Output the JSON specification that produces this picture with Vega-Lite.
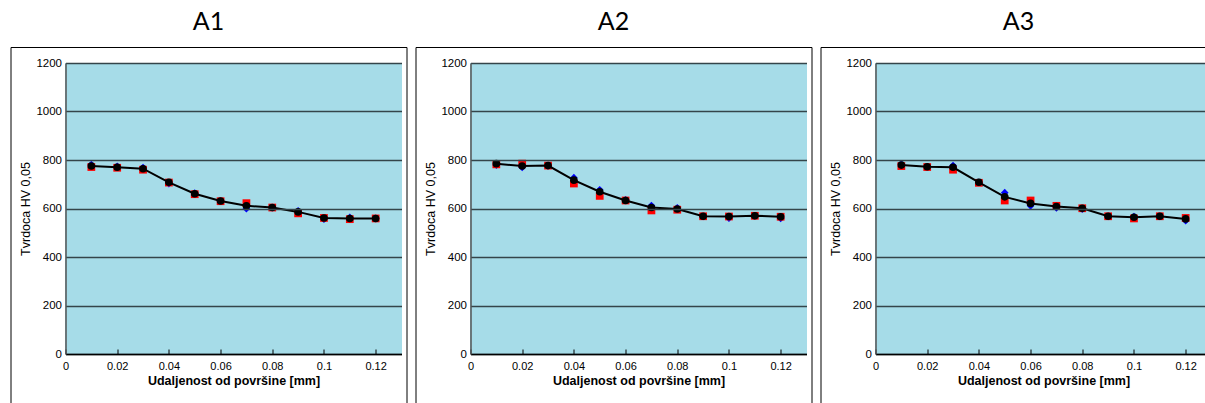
{
  "$schema": "https://vega.github.io/schema/vega-lite/v6.json",
  "background": "white",
  "padding": {"left": 9.5, "top": 10, "right": 0, "bottom": 0},
  "data": {"values": [
    {"uzorak":"A1","udaljenost":0.01,"serija":"Mjerenje 1","hv":781},
    {"uzorak":"A1","udaljenost":0.02,"serija":"Mjerenje 1","hv":774},
    {"uzorak":"A1","udaljenost":0.03,"serija":"Mjerenje 1","hv":769},
    {"uzorak":"A1","udaljenost":0.04,"serija":"Mjerenje 1","hv":703},
    {"uzorak":"A1","udaljenost":0.05,"serija":"Mjerenje 1","hv":663},
    {"uzorak":"A1","udaljenost":0.06,"serija":"Mjerenje 1","hv":630},
    {"uzorak":"A1","udaljenost":0.07,"serija":"Mjerenje 1","hv":599},
    {"uzorak":"A1","udaljenost":0.08,"serija":"Mjerenje 1","hv":604},
    {"uzorak":"A1","udaljenost":0.09,"serija":"Mjerenje 1","hv":590},
    {"uzorak":"A1","udaljenost":0.10,"serija":"Mjerenje 1","hv":556},
    {"uzorak":"A1","udaljenost":0.11,"serija":"Mjerenje 1","hv":563},
    {"uzorak":"A1","udaljenost":0.12,"serija":"Mjerenje 1","hv":559},
    {"uzorak":"A1","udaljenost":0.01,"serija":"Mjerenje 2","hv":771},
    {"uzorak":"A1","udaljenost":0.02,"serija":"Mjerenje 2","hv":768},
    {"uzorak":"A1","udaljenost":0.03,"serija":"Mjerenje 2","hv":760},
    {"uzorak":"A1","udaljenost":0.04,"serija":"Mjerenje 2","hv":707},
    {"uzorak":"A1","udaljenost":0.05,"serija":"Mjerenje 2","hv":659},
    {"uzorak":"A1","udaljenost":0.06,"serija":"Mjerenje 2","hv":630},
    {"uzorak":"A1","udaljenost":0.07,"serija":"Mjerenje 2","hv":622},
    {"uzorak":"A1","udaljenost":0.08,"serija":"Mjerenje 2","hv":604},
    {"uzorak":"A1","udaljenost":0.09,"serija":"Mjerenje 2","hv":580},
    {"uzorak":"A1","udaljenost":0.10,"serija":"Mjerenje 2","hv":561},
    {"uzorak":"A1","udaljenost":0.11,"serija":"Mjerenje 2","hv":556},
    {"uzorak":"A1","udaljenost":0.12,"serija":"Mjerenje 2","hv":559},
    {"uzorak":"A1","udaljenost":0.01,"serija":"Prosjek","hv":775},
    {"uzorak":"A1","udaljenost":0.02,"serija":"Prosjek","hv":770},
    {"uzorak":"A1","udaljenost":0.03,"serija":"Prosjek","hv":764},
    {"uzorak":"A1","udaljenost":0.04,"serija":"Prosjek","hv":708},
    {"uzorak":"A1","udaljenost":0.05,"serija":"Prosjek","hv":661},
    {"uzorak":"A1","udaljenost":0.06,"serija":"Prosjek","hv":631},
    {"uzorak":"A1","udaljenost":0.07,"serija":"Prosjek","hv":611},
    {"uzorak":"A1","udaljenost":0.08,"serija":"Prosjek","hv":604},
    {"uzorak":"A1","udaljenost":0.09,"serija":"Prosjek","hv":586},
    {"uzorak":"A1","udaljenost":0.10,"serija":"Prosjek","hv":561},
    {"uzorak":"A1","udaljenost":0.11,"serija":"Prosjek","hv":559},
    {"uzorak":"A1","udaljenost":0.12,"serija":"Prosjek","hv":559},
    {"uzorak":"A2","udaljenost":0.01,"serija":"Mjerenje 1","hv":779},
    {"uzorak":"A2","udaljenost":0.02,"serija":"Mjerenje 1","hv":770},
    {"uzorak":"A2","udaljenost":0.03,"serija":"Mjerenje 1","hv":777},
    {"uzorak":"A2","udaljenost":0.04,"serija":"Mjerenje 1","hv":727},
    {"uzorak":"A2","udaljenost":0.05,"serija":"Mjerenje 1","hv":677},
    {"uzorak":"A2","udaljenost":0.06,"serija":"Mjerenje 1","hv":636},
    {"uzorak":"A2","udaljenost":0.07,"serija":"Mjerenje 1","hv":612},
    {"uzorak":"A2","udaljenost":0.08,"serija":"Mjerenje 1","hv":603},
    {"uzorak":"A2","udaljenost":0.09,"serija":"Mjerenje 1","hv":568},
    {"uzorak":"A2","udaljenost":0.10,"serija":"Mjerenje 1","hv":560},
    {"uzorak":"A2","udaljenost":0.11,"serija":"Mjerenje 1","hv":570},
    {"uzorak":"A2","udaljenost":0.12,"serija":"Mjerenje 1","hv":559},
    {"uzorak":"A2","udaljenost":0.01,"serija":"Mjerenje 2","hv":782},
    {"uzorak":"A2","udaljenost":0.02,"serija":"Mjerenje 2","hv":785},
    {"uzorak":"A2","udaljenost":0.03,"serija":"Mjerenje 2","hv":777},
    {"uzorak":"A2","udaljenost":0.04,"serija":"Mjerenje 2","hv":703},
    {"uzorak":"A2","udaljenost":0.05,"serija":"Mjerenje 2","hv":652},
    {"uzorak":"A2","udaljenost":0.06,"serija":"Mjerenje 2","hv":633},
    {"uzorak":"A2","udaljenost":0.07,"serija":"Mjerenje 2","hv":592},
    {"uzorak":"A2","udaljenost":0.08,"serija":"Mjerenje 2","hv":595},
    {"uzorak":"A2","udaljenost":0.09,"serija":"Mjerenje 2","hv":568},
    {"uzorak":"A2","udaljenost":0.10,"serija":"Mjerenje 2","hv":567},
    {"uzorak":"A2","udaljenost":0.11,"serija":"Mjerenje 2","hv":570},
    {"uzorak":"A2","udaljenost":0.12,"serija":"Mjerenje 2","hv":566},
    {"uzorak":"A2","udaljenost":0.01,"serija":"Prosjek","hv":785},
    {"uzorak":"A2","udaljenost":0.02,"serija":"Prosjek","hv":775},
    {"uzorak":"A2","udaljenost":0.03,"serija":"Prosjek","hv":777},
    {"uzorak":"A2","udaljenost":0.04,"serija":"Prosjek","hv":717},
    {"uzorak":"A2","udaljenost":0.05,"serija":"Prosjek","hv":669},
    {"uzorak":"A2","udaljenost":0.06,"serija":"Prosjek","hv":633},
    {"uzorak":"A2","udaljenost":0.07,"serija":"Prosjek","hv":604},
    {"uzorak":"A2","udaljenost":0.08,"serija":"Prosjek","hv":598},
    {"uzorak":"A2","udaljenost":0.09,"serija":"Prosjek","hv":568},
    {"uzorak":"A2","udaljenost":0.10,"serija":"Prosjek","hv":567},
    {"uzorak":"A2","udaljenost":0.11,"serija":"Prosjek","hv":570},
    {"uzorak":"A2","udaljenost":0.12,"serija":"Prosjek","hv":566},
    {"uzorak":"A3","udaljenost":0.01,"serija":"Mjerenje 1","hv":783},
    {"uzorak":"A3","udaljenost":0.02,"serija":"Mjerenje 1","hv":772},
    {"uzorak":"A3","udaljenost":0.03,"serija":"Mjerenje 1","hv":777},
    {"uzorak":"A3","udaljenost":0.04,"serija":"Mjerenje 1","hv":708},
    {"uzorak":"A3","udaljenost":0.05,"serija":"Mjerenje 1","hv":665},
    {"uzorak":"A3","udaljenost":0.06,"serija":"Mjerenje 1","hv":611},
    {"uzorak":"A3","udaljenost":0.07,"serija":"Mjerenje 1","hv":603},
    {"uzorak":"A3","udaljenost":0.08,"serija":"Mjerenje 1","hv":597},
    {"uzorak":"A3","udaljenost":0.09,"serija":"Mjerenje 1","hv":568},
    {"uzorak":"A3","udaljenost":0.10,"serija":"Mjerenje 1","hv":567},
    {"uzorak":"A3","udaljenost":0.11,"serija":"Mjerenje 1","hv":568},
    {"uzorak":"A3","udaljenost":0.12,"serija":"Mjerenje 1","hv":550},
    {"uzorak":"A3","udaljenost":0.01,"serija":"Mjerenje 2","hv":775},
    {"uzorak":"A3","udaljenost":0.02,"serija":"Mjerenje 2","hv":771},
    {"uzorak":"A3","udaljenost":0.03,"serija":"Mjerenje 2","hv":760},
    {"uzorak":"A3","udaljenost":0.04,"serija":"Mjerenje 2","hv":706},
    {"uzorak":"A3","udaljenost":0.05,"serija":"Mjerenje 2","hv":633},
    {"uzorak":"A3","udaljenost":0.06,"serija":"Mjerenje 2","hv":633},
    {"uzorak":"A3","udaljenost":0.07,"serija":"Mjerenje 2","hv":611},
    {"uzorak":"A3","udaljenost":0.08,"serija":"Mjerenje 2","hv":601},
    {"uzorak":"A3","udaljenost":0.09,"serija":"Mjerenje 2","hv":568},
    {"uzorak":"A3","udaljenost":0.10,"serija":"Mjerenje 2","hv":559},
    {"uzorak":"A3","udaljenost":0.11,"serija":"Mjerenje 2","hv":568},
    {"uzorak":"A3","udaljenost":0.12,"serija":"Mjerenje 2","hv":561},
    {"uzorak":"A3","udaljenost":0.01,"serija":"Prosjek","hv":779},
    {"uzorak":"A3","udaljenost":0.02,"serija":"Prosjek","hv":772},
    {"uzorak":"A3","udaljenost":0.03,"serija":"Prosjek","hv":770},
    {"uzorak":"A3","udaljenost":0.04,"serija":"Prosjek","hv":708},
    {"uzorak":"A3","udaljenost":0.05,"serija":"Prosjek","hv":648},
    {"uzorak":"A3","udaljenost":0.06,"serija":"Prosjek","hv":621},
    {"uzorak":"A3","udaljenost":0.07,"serija":"Prosjek","hv":608},
    {"uzorak":"A3","udaljenost":0.08,"serija":"Prosjek","hv":601},
    {"uzorak":"A3","udaljenost":0.09,"serija":"Prosjek","hv":568},
    {"uzorak":"A3","udaljenost":0.10,"serija":"Prosjek","hv":564},
    {"uzorak":"A3","udaljenost":0.11,"serija":"Prosjek","hv":568},
    {"uzorak":"A3","udaljenost":0.12,"serija":"Prosjek","hv":557}
  ]},
  "facet": {
    "column": {
      "field": "uzorak",
      "type": "nominal",
      "header": {"title": null, "labelFont": "Lato", "labelFontSize": 25, "labelColor": "black", "labelPadding": 11}
    }
  },
  "spacing": 7,
  "resolve": {"axis": {"x": "independent", "y": "independent"}},
  "spec": {
    "width": 396,
    "height": 365,
    "encoding": {
      "x": {
        "field": "udaljenost",
        "type": "quantitative",
        "scale": {"domain": [0, 0.13], "range": [55, 391]},
        "axis": {
          "title": "Udaljenost od površine [mm]",
          "offset": -58,
          "zindex": 1,
          "values": [0, 0.02, 0.04, 0.06, 0.08, 0.1, 0.12],
          "format": "~g",
          "grid": false,
          "labelFlush": false,
          "ticks": true,
          "tickSize": -5,
          "tickColor": "black",
          "tickWidth": 1,
          "domainColor": "black",
          "domainWidth": 1.5,
          "labelPadding": 11,
          "labelFont": "Liberation Sans",
          "labelFontSize": 11,
          "labelColor": "black",
          "titleFont": "Liberation Sans",
          "titleFontSize": 12.5,
          "titleFontWeight": "bold",
          "titleColor": "black",
          "titlePadding": 3
        }
      },
      "y": {
        "field": "hv",
        "type": "quantitative",
        "scale": {"domain": [0, 1200], "range": [307, 16]},
        "axis": {
          "title": "Tvrdoca HV 0,05",
          "offset": -55,
          "zindex": 1,
          "values": [0, 200, 400, 600, 800, 1000, 1200],
          "format": "d",
          "grid": true,
          "gridColor": "#34454a",
          "gridWidth": 1.5,
          "ticks": false,
          "labelFlush": false,
          "domainColor": "#555555",
          "domainWidth": 1.5,
          "labelPadding": 4,
          "labelFont": "Liberation Sans",
          "labelFontSize": 11.5,
          "labelColor": "black",
          "titleFont": "Liberation Sans",
          "titleFontSize": 12.5,
          "titleFontWeight": "normal",
          "titleColor": "black",
          "titlePadding": 3
        }
      }
    },
    "layer": [
      {
        "mark": {"type": "rect", "color": "#A6DCE8"},
        "encoding": {
          "x": {"datum": 0},
          "x2": {"datum": 0.13},
          "y": {"datum": 0},
          "y2": {"datum": 1200}
        }
      },
      {
        "transform": [{"filter": "datum.serija !== 'Prosjek'"}],
        "mark": {"type": "point", "filled": true, "size": 60, "opacity": 1, "strokeWidth": 0},
        "encoding": {
          "shape": {"field": "serija", "type": "nominal", "scale": {"domain": ["Mjerenje 1", "Mjerenje 2"], "range": ["diamond", "square"]}, "legend": null},
          "color": {"field": "serija", "type": "nominal", "scale": {"domain": ["Mjerenje 1", "Mjerenje 2"], "range": ["#0000FF", "#FF0000"]}, "legend": null}
        }
      },
      {
        "transform": [{"filter": "datum.serija === 'Prosjek'"}],
        "mark": {"type": "line", "color": "black", "strokeWidth": 2},
        "encoding": {}
      },
      {
        "transform": [{"filter": "datum.serija === 'Prosjek'"}],
        "mark": {"type": "point", "shape": "circle", "filled": true, "size": 58, "opacity": 1, "color": "black", "strokeWidth": 0},
        "encoding": {}
      }
    ]
  },
  "config": {
    "view": {"stroke": "black", "strokeWidth": 1, "fill": "white"}
  }
}
